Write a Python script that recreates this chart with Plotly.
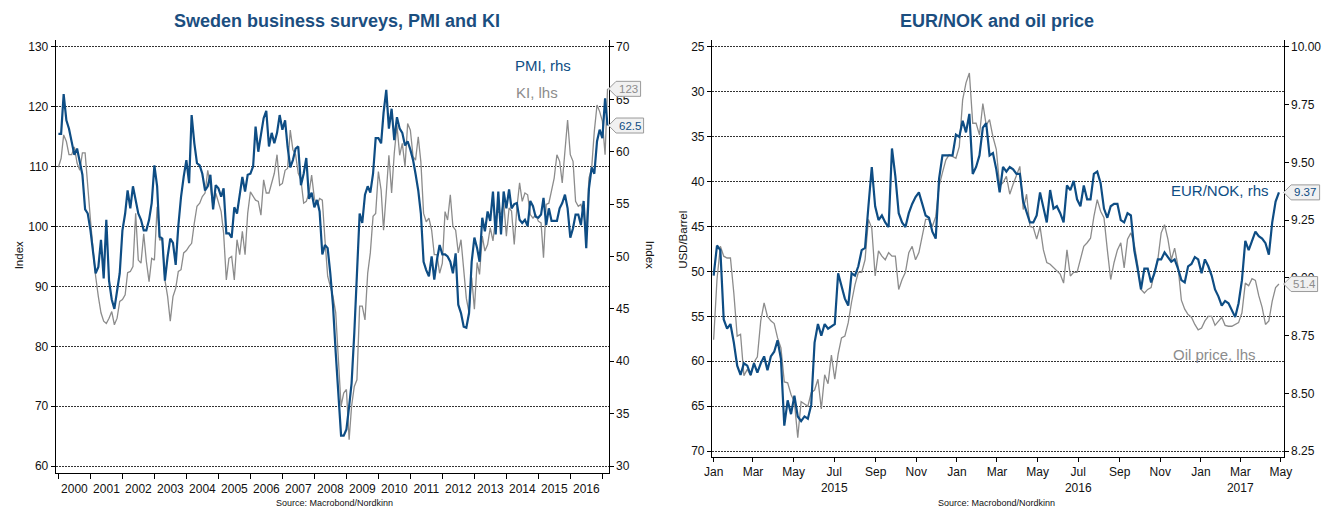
import pandas as pd
import plotly.graph_objects as go

W, H = 1341, 508

# ---------------- Left chart: Sweden PMI (rhs) and KI (lhs), monthly from Jan 2000 ----------------
pmi = [
    61.7, 61.7, 65.5, 63.0, 62.2, 61.0, 59.7, 60.3, 58.9, 57.8, 54.5, 54.1,
    52.5, 50.6, 48.4, 49.0, 51.6, 47.9, 53.5, 47.7, 45.9, 45.0, 46.8, 48.4,
    52.5, 54.1, 56.3, 54.6, 56.7, 55.4, 54.1, 53.5, 52.5, 52.5, 53.5, 55.1,
    58.7, 56.7, 51.9, 51.7, 47.7, 50.0, 51.7, 51.3, 49.2, 52.9, 55.7, 57.6,
    59.2, 57.0, 63.5, 60.8, 58.9, 58.7, 57.9, 56.3, 56.7, 57.8, 54.5, 56.8,
    56.5, 55.7, 56.5, 52.2, 52.2, 51.8, 54.7, 54.1, 56.1, 57.6, 56.2, 57.8,
    57.9, 58.6, 62.4, 60.0, 61.6, 63.2, 63.9, 60.5, 61.8, 60.8, 61.8, 63.5,
    62.1, 63.0, 60.5, 58.5, 59.2, 60.3, 60.5, 56.8, 57.9, 59.4, 55.5, 56.1,
    54.7, 55.4, 54.3, 50.2, 51.1, 50.8, 48.4, 45.3, 40.8, 36.7, 32.9, 32.9,
    33.5, 35.7, 37.9, 42.7, 49.0, 54.1, 53.2, 55.9, 56.7, 56.1, 57.9, 61.3,
    61.3, 60.8, 63.7, 65.9, 62.2, 64.1, 61.1, 63.3, 62.2, 61.8, 60.6, 61.0,
    60.2, 59.2, 57.9, 56.3, 54.1, 49.5, 48.7, 48.1, 50.0, 47.8, 49.7, 51.1,
    50.2, 50.2, 50.0, 49.5, 48.4, 50.3, 45.4, 44.6, 43.3, 43.2, 44.6, 49.5,
    51.8, 50.8, 49.5, 53.7, 52.4, 54.3, 53.4, 56.2, 52.1, 56.2, 52.1, 56.2,
    54.6, 56.4, 54.6, 55.0, 55.1, 53.5, 53.2, 53.5, 52.9, 55.3, 54.8, 53.8,
    53.7, 54.0, 55.6, 53.0, 54.6, 53.4, 53.4, 53.4, 54.6, 55.1, 55.9, 54.6,
    51.8, 52.7, 54.0, 54.0, 53.0, 55.3, 50.8, 56.5, 58.5, 57.9, 61.0, 62.1,
    61.3, 65.1, 62.5,
]
ki = [
    109.9, 111.4, 115.3, 114.2, 112.0, 112.0, 113.3, 110.6, 109.4, 112.3, 112.3, 106.1,
    101.1, 96.0, 91.7, 88.3, 85.6, 84.2, 83.8, 84.7, 85.8, 83.6, 84.7, 87.5,
    87.8, 88.6, 92.3, 92.5, 93.3, 102.2, 94.4, 93.9, 98.8, 94.2, 90.8, 94.7,
    94.4, 103.3, 97.8, 97.8, 91.1, 88.3, 84.2, 88.3, 89.7, 92.5, 92.8, 95.6,
    96.0, 96.7, 97.2, 100.6, 103.4, 103.9, 105.0, 105.6, 109.4, 106.7, 103.3, 105.6,
    103.9, 102.5, 98.9, 91.1, 94.7, 95.0, 91.1, 97.8, 95.3, 99.2, 95.3, 102.2,
    105.8, 105.0, 104.4, 104.2, 101.9, 107.8, 105.6, 105.6, 107.5, 108.9, 112.0, 106.9,
    107.2, 109.4, 109.7, 116.1, 112.8, 112.0, 108.9, 107.8, 103.9, 104.2, 105.6, 108.6,
    104.7, 103.6, 104.7, 104.4, 97.8, 91.7, 90.0, 88.3, 85.6, 77.8, 70.0, 72.2,
    72.8, 64.4, 70.0, 73.3, 74.4, 86.7, 86.7, 84.4, 92.2, 95.6, 101.7, 102.2,
    109.2, 106.1, 99.4, 105.6, 111.9, 105.6, 112.2, 116.9, 111.9, 113.9, 110.0, 117.2,
    116.1, 111.7, 111.1, 115.0, 110.8, 102.2, 100.8, 101.4, 99.4, 95.3, 95.3, 92.2,
    93.9, 102.5, 101.1, 105.3, 100.0, 99.4, 95.6, 97.8, 92.8, 88.0, 85.6, 91.5,
    86.2, 94.0, 92.0, 98.4, 95.9, 97.0, 99.8, 97.6, 101.4, 102.6, 102.0, 104.2,
    98.4, 103.1, 102.6, 97.0, 103.1, 107.3, 104.2, 105.6, 105.3, 102.0, 101.4, 102.0,
    100.9, 100.6, 94.8, 103.7, 103.9, 105.9, 108.1, 112.0, 110.9, 107.3, 112.0, 117.8,
    112.0, 110.9, 104.2, 103.4, 103.7, 102.0, 99.2, 108.1, 109.8, 115.9, 120.3, 119.2,
    117.6, 112.0, 123.0,
]
months = pd.date_range("2000-01-01", periods=len(pmi), freq="MS")
ki_ticks = list(range(60, 131, 10))
pmi_ticks = list(range(30, 71, 5))

# ---------------- Right chart: EUR/NOK (rhs) and oil price (lhs, inverted) ----------------
eurnok = [
    9.01, 9.14, 9.12, 8.82, 8.78, 8.80, 8.72, 8.62, 8.58, 8.63,
    8.62, 8.58, 8.63, 8.59, 8.63, 8.66, 8.60, 8.66, 8.68, 8.73,
    8.65, 8.36, 8.47, 8.41, 8.49, 8.40, 8.38, 8.40, 8.39, 8.45,
    8.72, 8.80, 8.75, 8.80, 8.78, 8.79, 8.80, 9.02, 8.96, 8.91,
    8.88, 9.02, 9.01, 9.05, 9.12, 9.13, 9.31, 9.48, 9.31, 9.25,
    9.27, 9.24, 9.22, 9.56, 9.44, 9.28, 9.24, 9.22, 9.28, 9.32,
    9.35, 9.37, 9.32, 9.27, 9.26, 9.20, 9.17, 9.43, 9.53, 9.53,
    9.53, 9.53, 9.62, 9.61, 9.68, 9.63, 9.71, 9.45, 9.48, 9.53,
    9.65, 9.67, 9.53, 9.54, 9.47, 9.37, 9.48, 9.46, 9.48, 9.47,
    9.45, 9.45, 9.33, 9.28, 9.24, 9.24, 9.27, 9.37, 9.30, 9.24,
    9.38, 9.30, 9.31, 9.28, 9.24, 9.40, 9.38, 9.42, 9.34, 9.31,
    9.40, 9.34, 9.34, 9.45, 9.46, 9.41, 9.30, 9.26, 9.31, 9.32,
    9.32, 9.25, 9.24, 9.28, 9.27, 9.12, 9.04, 8.95, 9.04, 9.04,
    8.98, 9.02, 9.08, 9.08, 9.11, 9.09, 9.07, 9.08, 9.04, 8.99,
    8.98, 9.05, 9.06, 9.09, 9.08, 9.02, 9.08, 9.05, 9.01, 8.95,
    8.92, 8.88, 8.90, 8.89, 8.86, 8.83, 8.89, 8.99, 9.16, 9.12,
    9.16, 9.20, 9.18, 9.17, 9.15, 9.10, 9.24, 9.33, 9.37,
]
oil = [
    57.6, 50.9, 47.2, 48.3, 48.5, 48.5, 52.4, 57.2, 57.0, 61.6,
    60.9, 61.6, 60.1, 59.5, 55.5, 53.5, 55.0, 55.5, 55.8, 57.4,
    58.5, 62.3, 62.4, 63.7, 64.5, 68.5, 64.5, 64.8, 65.0, 63.5,
    63.2, 62.0, 65.3, 61.5, 62.5, 59.3, 62.0, 59.2, 57.4, 57.2,
    55.7, 53.4, 51.5, 50.1, 50.1, 48.7, 44.2, 45.2, 50.5, 47.7,
    48.3, 48.7, 47.9, 48.3, 48.3, 52.0, 50.9, 50.1, 47.9, 47.2,
    48.7, 47.9, 46.1, 44.2, 44.2, 45.0, 43.9, 40.5, 39.0, 37.6,
    37.0, 37.2, 37.4, 36.1, 30.9, 29.0, 27.9, 33.5, 33.5, 34.8,
    31.3, 33.7, 33.1, 35.0, 36.4, 40.5, 40.1, 39.4, 41.4, 40.3,
    39.4, 38.3, 43.1, 41.4, 45.0, 45.1, 46.4, 45.0, 47.6, 49.0,
    49.2, 49.6, 50.0, 50.3, 51.3, 47.6, 50.5, 50.1, 50.1, 48.7,
    47.2, 46.8, 46.3, 43.9, 42.0, 43.3, 44.0, 47.6, 50.9, 49.0,
    47.6, 46.8, 49.6, 46.4, 45.7, 47.0, 49.2, 52.0, 52.4, 52.0,
    51.8, 50.1, 48.7, 45.7, 44.8, 46.4, 48.7, 47.4, 49.4, 53.2,
    54.2, 54.8, 55.1, 55.9, 56.5, 56.3, 55.5, 55.0, 55.0, 56.0,
    55.6, 55.1, 56.0, 56.1, 56.1, 55.9, 55.7, 54.6, 51.3, 51.6,
    50.8, 51.0, 52.7, 54.0, 55.9, 55.5, 53.3, 51.8, 51.4,
]
days = pd.date_range("2015-01-01", "2017-04-28", periods=len(eurnok))
oil_ticks = list(range(25, 71, 5))
nok_ticks = [8.25, 8.50, 8.75, 9.00, 9.25, 9.50, 9.75, 10.00]
month_ticks = pd.date_range("2015-01-01", "2017-05-01", freq="2MS")
year_under = {"2015-07": "2015", "2016-07": "2016", "2017-03": "2017"}

# ---------------- styling ----------------
BLUE = "#0E4D84"
GREY = "#8C8C8C"
TITLE = "#1B4E7F"
TXT = "#111111"
FONT = "Liberation Sans, Arial, sans-serif"
GRID = dict(showgrid=True, gridcolor="#333333", griddash="2px,1px", gridwidth=1)


def fx(x):
    return x / W


def fy(y):
    return (H - y) / H


tickfont = dict(family=FONT, size=12, color=TXT)
axis_common = dict(showline=True, linecolor="black", linewidth=1, ticks="outside",
                   ticklen=4, tickcolor="black", tickfont=tickfont, zeroline=False)

fig = go.Figure()
fig.add_trace(go.Scatter(x=months, y=ki, xaxis="x", yaxis="y", mode="lines",
                         line=dict(color=GREY, width=1.3), name="KI, lhs"))
fig.add_trace(go.Scatter(x=months, y=pmi, xaxis="x", yaxis="y2", mode="lines",
                         line=dict(color=BLUE, width=2.2), name="PMI, rhs"))
fig.add_trace(go.Scatter(x=days, y=oil, xaxis="x2", yaxis="y3", mode="lines",
                         line=dict(color=GREY, width=1.3), name="Oil price, lhs"))
fig.add_trace(go.Scatter(x=days, y=eurnok, xaxis="x2", yaxis="y4", mode="lines",
                         line=dict(color=BLUE, width=2.2), name="EUR/NOK, rhs"))

L_X0, L_X1, L_Y0, L_Y1 = 48.3, 608.3, 474, 40
R_X0, R_X1, R_Y0, R_Y1 = 713, 1292, 458, 40

fig.update_layout(
    width=W, height=H, margin=dict(l=0, r=0, t=0, b=0),
    paper_bgcolor="white", plot_bgcolor="white", showlegend=False,
    font=dict(family=FONT, color=TXT),
    xaxis=dict(domain=[fx(L_X0), fx(L_X1)], anchor="y", type="date",
               range=["1999-12-01", "2017-03-13"], dtick="M12", tick0="2000-01-01",
               tickformat="%Y", ticklabelmode="period", showgrid=False, ticklen=5,
               **{k: v for k, v in axis_common.items() if k != "ticklen"}),
    yaxis=dict(domain=[fy(L_Y0), fy(L_Y1)], anchor="x", range=[58.83, 131.17],
               tickvals=ki_ticks, **GRID, **axis_common),
    yaxis2=dict(overlaying="y", side="right", anchor="x", range=[29.33, 70.67],
                tickvals=pmi_ticks, showgrid=False, **axis_common),
    xaxis2=dict(domain=[fx(R_X0), fx(R_X1)], anchor="y3", type="date",
                range=["2014-12-29 12:00", "2017-05-05"],
                tickvals=list(month_ticks),
                ticktext=[d.strftime("%b") + ("<br>" + year_under[d.strftime("%Y-%m")]
                                              if d.strftime("%Y-%m") in year_under else "")
                          for d in month_ticks],
                showgrid=False, **axis_common),
    yaxis3=dict(domain=[fy(R_Y0), fy(R_Y1)], anchor="x2", range=[70.67, 24.22],
                tickvals=oil_ticks, **GRID, **axis_common),
    yaxis4=dict(overlaying="y3", side="right", anchor="x2", range=[8.224, 10.030],
                tickvals=nok_ticks, tickformat=".2f", showgrid=False, **axis_common),
)

ann = []


def text(x, y, s, size, color=TXT, bold=False, angle=0, xanchor="center"):
    ann.append(dict(x=fx(x), y=fy(y), xref="paper", yref="paper", text=s, showarrow=False,
                    xanchor=xanchor, yanchor="middle", textangle=angle,
                    font=dict(family=FONT, size=size, color=color,
                              weight="bold" if bold else "normal")))


text(333, 21, "Sweden business surveys, PMI and KI", 18, TITLE, bold=True)
text(1002, 21, "EUR/NOK and oil price", 18, TITLE, bold=True)
text(12, 256, "Index", 11.5, angle=-90)
text(650, 255, "Index", 11.5, angle=90)
text(683, 240, "USD/Barrel", 11.5, angle=-90)
text(331, 504, "Source: Macrobond/Nordkinn", 9)
text(1001, 504, "Source: Macrobond/Nordkinn", 9)
text(511, 66, "PMI, rhs", 15, BLUE, xanchor="left")
text(512, 93, "KI, lhs", 15, GREY, xanchor="left")
text(1176, 191, "EUR/NOK, rhs", 15, BLUE, xanchor="left")
text(1178, 355, "Oil price, lhs", 15, GREY, xanchor="left")

shapes = []


def callout(xpix, yref, value, label, color, width):
    shapes.append(dict(type="path", xref="paper", yref=yref, xsizemode="pixel", ysizemode="pixel",
                       xanchor=fx(xpix), yanchor=value,
                       path=f"M0,0 L7.5,7.5 L{width},7.5 L{width},-7.5 L7.5,-7.5 Z",
                       fillcolor="#F1F1F1", line=dict(color="#9a9a9a", width=1), layer="above"))
    ann.append(dict(x=fx(xpix + 7.5 + (width - 7.5) / 2), y=value, xref="paper", yref=yref,
                    text=label, showarrow=False, xanchor="center", yanchor="middle",
                    font=dict(family=FONT, size=11.5, color=color)))


callout(L_X1, "y", ki[-1], f"{ki[-1]:.0f}", GREY, 32)
callout(L_X1, "y2", pmi[-1], f"{pmi[-1]:.1f}", BLUE, 35)
callout(R_X1, "y4", eurnok[-1], f"{eurnok[-1]:.2f}", BLUE, 36)
callout(R_X1, "y3", oil[-1], f"{oil[-1]:.1f}", GREY, 34)

fig.update_layout(annotations=ann, shapes=shapes)
fig.write_html("out.html")
